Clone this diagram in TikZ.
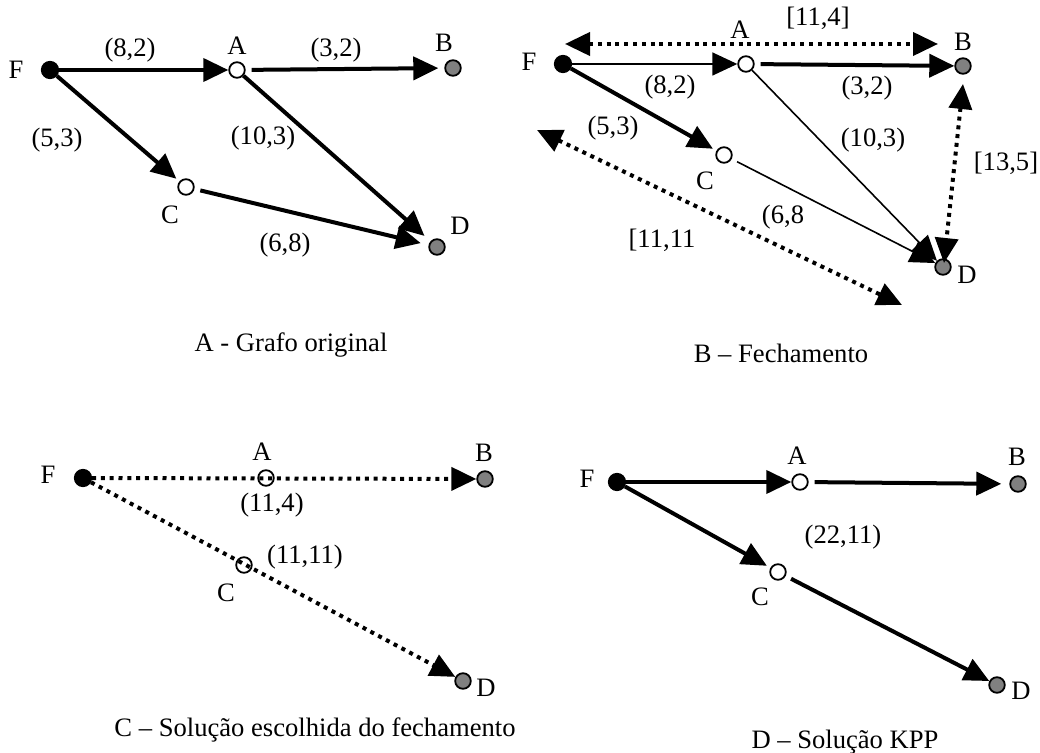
\documentclass[tikz,border=0pt]{standalone}
\usepackage{fontspec}
\setmainfont{Liberation Serif}
\usetikzlibrary{arrows.meta}
\tikzset{
  vtx/.style={circle,draw,line width=0.9pt,inner sep=0pt,minimum size=7.8pt,fill=white},
  src/.style={vtx,fill=black,minimum size=8.2pt},
  snk/.style={vtx,fill=gray},
  hollow/.style={vtx,fill=none},
  arr/.style={line width=2pt,-{Triangle[length=12.5pt,width=11.5pt]}},
  thinarr/.style={line width=0.8pt,-{Triangle[length=12.5pt,width=11.5pt]}},
  dotarr/.style={line width=2pt,dash pattern=on 2pt off 2.4pt,-{Triangle[length=12.5pt,width=11.5pt]}},
  dotdbl/.style={dotarr,{Triangle[length=12.5pt,width=11.5pt]}-{Triangle[length=12.5pt,width=11.5pt]}},
  wlab/.style={fill=white,inner sep=1pt},
}

\begin{document}
\begin{tikzpicture}[x=0.5pt,y=-0.5pt,font=\fontsize{13.3}{15}\selectfont]
\useasboundingbox (0,0) rectangle (1040,753);
% A - original graph
\node[src] (aF) at (50,70) {}; \node[vtx] (aA) at (237,70) {}; \node[snk] (aB) at (453,68) {};
\node[vtx] (aC) at (186,187) {}; \node[snk] (aD) at (437,247) {};
\node (aFl) at (16,70) {F}; \node (aAl) at (237,46) {A}; \node (aBl) at (444,43) {B};
\node (aCl) at (170,215) {C}; \node (aDl) at (460,226) {D};
\draw[arr] (aF) -- (aA);
\draw[arr,shorten <=3pt,shorten >=3pt] (aA) -- (aB);
\draw[arr,shorten >=4pt] (aA) -- (aD);
\draw[arr,shorten >=2pt] (aF) -- (aC);
\draw[arr,shorten <=3pt,shorten >=4pt] (aC) -- (aD);
\node (aw1) at (130,50) {(8,2)}; \node (aw2) at (336,50) {(3,2)}; \node (aw3) at (57,140) {(5,3)};
\node (aw4) at (263,138) {(10,3)}; \node (aw5) at (285,245) {(6,8)};
\node (acap) at (291,345) {A - Grafo original};
% B - closure
\node[src] (bF) at (563,64) {}; \node[vtx] (bA) at (746,64) {}; \node[snk] (bB) at (963,66) {};
\node[vtx] (bC) at (724,155) {}; \node[snk] (bD) at (943,267) {};
\node (bFl) at (529,62) {F}; \node (bAl) at (740,30) {A}; \node (bBl) at (963,42) {B};
\node (bCl) at (705,181) {C}; \node (bDl) at (967,275) {D};
\coordinate (bP1) at (565,44); \coordinate (bP2) at (938,44);
\coordinate (bP3) at (963,84); \coordinate (bP4) at (944,263);
\coordinate (bP5) at (537,130); \coordinate (bP6) at (902,305);
\draw[dotdbl] (bP1) -- (bP2); \draw[dotdbl] (bP3) -- (bP4); \draw[dotdbl] (bP5) -- (bP6);
\draw[thinarr] (bF) -- (bA);
\draw[arr,shorten <=3pt] (bA) -- (bB);
\draw[arr,shorten >=2pt] (bF) -- (bC);
\draw[thinarr] (bA) -- (bD);
\draw[thinarr,shorten <=3pt] (bC) -- (bD);
\node (bw1) at (670,87) {(8,2)}; \node (bw2) at (867,88) {(3,2)}; \node (bw3) at (613,128) {(5,3)};
\node (bw4) at (873,140) {(10,3)}; \node[wlab] (bw5) at (783,217) {(6,8};
\node (bk1) at (818,18) {[11,4]}; \node (bk2) at (1006,163) {[13,5]}; \node (bk3) at (662,240) {[11,11};
\node (bcap) at (781,353) {B – Fechamento};
% C - chosen closure solution
\node[src] (cF) at (83,478) {}; \node[hollow] (cA) at (266,478) {}; \node[snk] (cB) at (485,479) {};
\node[hollow] (cC) at (244,565) {}; \node[snk] (cD) at (463,681) {};
\node (cFl) at (48,475) {F}; \node (cAl) at (262,452) {A}; \node (cBl) at (484,453) {B};
\node (cCl) at (226,593) {C}; \node (cDl) at (486,688) {D};
\draw[dotarr] (cF) -- (cB);
\draw[dotarr] (cF) -- (cD);
\node (cw1) at (272,505) {(11,4)}; \node (cw2) at (305,557) {(11,11)};
\node (ccap) at (315,730) {C – Solução escolhida do fechamento};
% D - KPP solution
\node[src] (dF) at (617,482) {}; \node[vtx] (dA) at (800,482) {}; \node[snk] (dB) at (1018,484) {};
\node[vtx] (dC) at (778,572) {}; \node[snk] (dD) at (997,685) {};
\node (dFl) at (587,479) {F}; \node (dAl) at (797,456) {A}; \node (dBl) at (1017,457) {B};
\node (dCl) at (760,597) {C}; \node (dDl) at (1021,691) {D};
\draw[arr] (dF) -- (dA);
\draw[arr,shorten <=3pt,shorten >=4pt] (dA) -- (dB);
\draw[arr,shorten >=2pt] (dF) -- (dC);
\draw[arr,shorten <=3pt] (dC) -- (dD);
\node (dw1) at (843,537) {(22,11)};
\node (dcap) at (845,742) {D – Solução KPP};
\end{tikzpicture}
\end{document}
